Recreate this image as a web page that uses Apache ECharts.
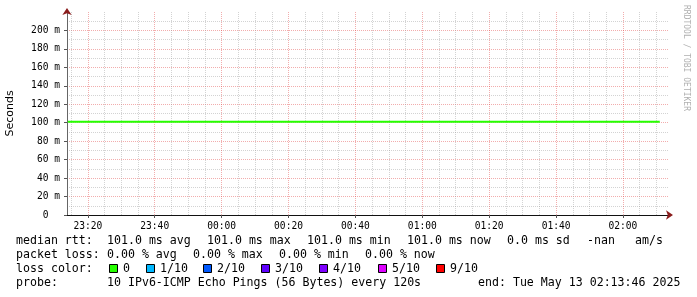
<!DOCTYPE html>
<html><head><meta charset="utf-8">
<script src="https://cdn.jsdelivr.net/npm/echarts@6/dist/echarts.min.js"></script>
<style>html,body{margin:0;padding:0;background:#fff}#c{width:697px;height:297px}</style>
</head><body><div id="c"></div>
<script>
// ---- data ----
const startTime = '23:13:46';
const endTime = '02:13:46';
const sampleTimes = ['23:14','23:30','23:50','00:10','00:30','00:50','01:10','01:30','01:50','02:11'];
const medianRtt = [101.0,101.0,101.0,101.0,101.0,101.0,101.0,101.0,101.0,101.0];
const xTickLabels = ['23:20','23:40','00:00','00:20','00:40','01:00','01:20','01:40','02:00'];
const yMax = 220;
const yInterval = 20;
const statsRtt = ['101.0 ms avg','101.0 ms max','101.0 ms min','101.0 ms now','0.0 ms sd','-nan','am/s'];
const statsLoss = ['0.00 % avg','0.00 % max','0.00 % min','0.00 % now'];
const lossLabels = ['0','1/10','2/10','3/10','4/10','5/10','9/10'];
const lossColors = ['#26ff00','#00b8ff','#0059ff','#5e00ff','#7e00ff','#dd00ff','#ff0000'];
const probeText = '10 IPv6-ICMP Echo Pings (56 Bytes) every 120s';
const endText = 'end: Tue May 13 02:13:46 2025';

// minutes since 23:00
function toMin(t){
  const p = t.split(':').map(Number);
  const h = p[0], m = p[1] + (p[2]||0)/60;
  return (h >= 12 ? (h-23)*60 : (h+1)*60) + m;
}
function fmt(v){
  let tot = Math.round(v) + 23*60;
  tot = ((tot % 1440) + 1440) % 1440;
  const h = Math.floor(tot/60), m = tot%60;
  return String(h).padStart(2,'0') + ':' + String(m).padStart(2,'0');
}
const xMin = toMin(startTime), xMax = toMin(endTime);
const majorX = xTickLabels.map(toMin);
const minorX = [];
for (let v = Math.ceil(xMin/5)*5; v <= xMax; v += 5) if (v % 20 !== 0) minorX.push(v);

const mono = '"DejaVu Sans Mono", monospace';
const TF = '11.6px ' + mono;
const graphics = [];
function txt(s, x, y, extra){
  graphics.push(Object.assign({type:'text', x:x, y:y, silent:true,
    style:{text:s, font:TF, fill:'#000', verticalAlign:'middle', align:'left'}}, extra||{}));
}
const rowY = [241, 255, 269, 283];
txt('median rtt:', 16, rowY[0]);
const rttX = [107, 207, 307, 407, 507, 587, 635];
statsRtt.forEach((s,i)=>txt(s, rttX[i], rowY[0]));
txt('packet loss:', 16, rowY[1]);
const lossX = [107, 193, 279, 365];
statsLoss.forEach((s,i)=>txt(s, lossX[i], rowY[1]));
txt('loss color:', 16, rowY[2]);
const boxX = [109, 146, 203, 261, 319, 378, 436];
lossLabels.forEach((s,i)=>{
  graphics.push({type:'rect', silent:true, shape:{x:boxX[i]+0.5, y:rowY[2]-4.5, width:8, height:8},
    style:{fill:lossColors[i], stroke:'#000', lineWidth:1}});
  txt(s, boxX[i]+14, rowY[2]);
});
txt('probe:', 16, rowY[3]);
txt(probeText, 107, rowY[3]);
txt(endText, 478, rowY[3]);
graphics.push({type:'text', x:686, y:5, rotation:-Math.PI/2, silent:true,
  style:{text:'RRDTOOL / TOBI OETIKER', font:'8px ' + mono, fill:'#b0b0b0', verticalAlign:'middle', align:'left'}});

const majorGrid = {show:true, lineStyle:{color:'rgba(225,60,60,0.42)', type:[1,1], width:1}};
const minorGrid = {show:true, lineStyle:{color:'rgba(150,150,150,0.42)', type:[1,1], width:1}};
const arrowColor = '#8a1c1c';
const hidden = {axisLabel:{show:false}, axisTick:{show:false}, splitLine:{show:false}};

const chart = echarts.init(document.getElementById('c'), null, {renderer:'canvas'});
chart.setOption({
  animation:false,
  backgroundColor:'#fff',
  grid:{left:67, right:28, top:12, bottom:82, containLabel:false, outerBoundsMode:'none'},
  xAxis:[Object.assign({
    type:'value', min:xMin, max:xMax, position:'bottom',
    axisLine:{show:true, onZero:false, lineStyle:{color:arrowColor, width:1}, symbol:['none','arrow'], symbolSize:[7,7], symbolOffset:[0,4]}
  }, hidden),{
    type:'value', min:xMin, max:xMax, position:'bottom',
    axisLine:{show:false}, axisLabel:{show:false},
    axisTick:{show:false, customValues:minorX},
    splitLine:minorGrid
  },{
    type:'value', min:xMin, max:xMax, position:'bottom',
    axisLine:{show:true, onZero:false, lineStyle:{color:'#111', width:1}},
    axisTick:{show:true, length:3, customValues:majorX, lineStyle:{color:'#555'}},
    axisLabel:{customValues:majorX, formatter:fmt, color:'#000', fontFamily:mono, fontSize:9.6, margin:6},
    splitLine:majorGrid
  }],
  yAxis:[Object.assign({
    type:'value', min:0, max:yMax, interval:yInterval, position:'left',
    axisLine:{show:true, onZero:false, lineStyle:{color:arrowColor, width:1}, symbol:['none','arrow'], symbolSize:[7,7], symbolOffset:[0,4]}
  }, hidden),{
    type:'value', min:0, max:yMax, interval:yInterval, position:'left',
    name:'Seconds', nameLocation:'middle', nameGap:51, nameRotate:90,
    nameTextStyle:{fontFamily:'"DejaVu Sans", sans-serif', fontSize:11, color:'#000'},
    axisLine:{show:true, onZero:false, lineStyle:{color:'#666', width:1}},
    axisTick:{show:true, length:3, lineStyle:{color:'#555'}},
    axisLabel:{showMaxLabel:false, color:'#000', fontFamily:mono, fontSize:9.6, margin:7,
      formatter:v => v === 0 ? '0  ' : v + ' m'},
    splitLine:Object.assign({showMinLine:false, showMaxLine:false}, majorGrid),
    minorTick:{show:false, splitNumber:2},
    minorSplitLine:minorGrid
  }],
  series:[{
    type:'line', xAxisIndex:2, yAxisIndex:1,
    data:sampleTimes.map((t,i)=>[toMin(t), medianRtt[i]]),
    showSymbol:false, symbol:'none',
    lineStyle:{color:'#26ff00', width:2},
    z:5
  }],
  graphic:graphics
});
</script></body></html>
